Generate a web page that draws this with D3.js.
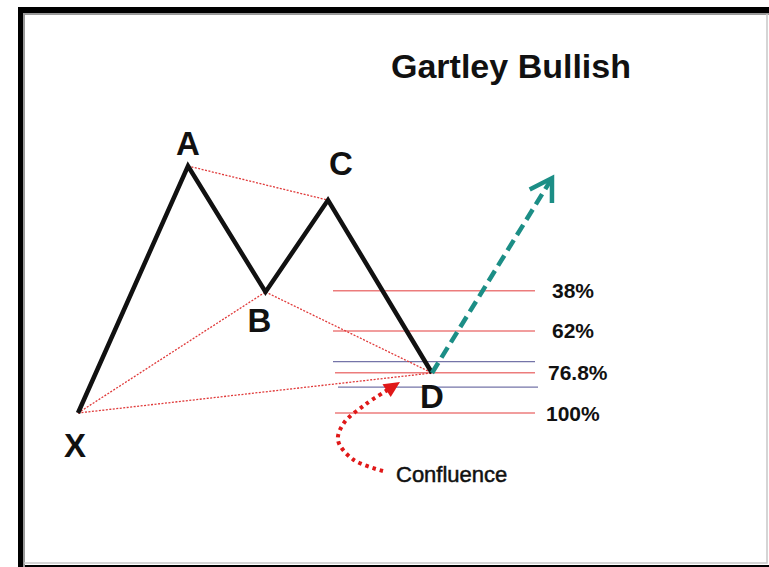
<!DOCTYPE html>
<html>
<head>
<meta charset="utf-8">
<script src="https://cdn.jsdelivr.net/npm/d3@7"></script>
<style>
  body { margin: 0; background: #fff; }
  svg { display: block; }
  text { font-family: "Liberation Sans", Arial, sans-serif; font-weight: bold; fill: #111; }
</style>
</head>
<body>
<div id="chart"></div>
<script>
// pattern swing points: bar index and price (X = 0, A = 100)
const pointNames = ["X", "A", "B", "C", "D"];
const pointBars = [0, 22, 37.5, 50, 70.8];
const pointPrices = [0, 100, 49, 86.2, 16.2];

// projected move after D
const targetBar = 94.8;
const targetPrice = 95.1;

// fib levels
const levelLabels = ["38%", "62%", "76.8%", "100%"];
const levelPrices = [49.5, 33.2, 16.3, 0];
const levelStart = [51, 51, 51.4, 51.4];
const levelEnd = [91.4, 91.4, 91.4, 91.4];

// confluence zone band (blue lines)
const bandPrices = [20.8, 10.5];
const bandStart = [51, 52];
const bandEnd = [91.4, 92];

// curved "Confluence" pointer
const pointerBars = [61, 55, 52, 53.2, 57.5, 64.4];
const pointerPrices = [-23.5, -18.8, -11, -4, 3.5, 12.6];

const width = 769, height = 567;

const x = d3.scaleLinear().domain([0, 100]).range([78, 578]);
const y = d3.scaleLinear().domain([0, 100]).range([413, 166]);

const svg = d3.select("#chart").append("svg")
    .attr("width", width)
    .attr("height", height);

// frame
svg.append("rect")
    .attr("x", 21).attr("y", 10)
    .attr("width", 760).attr("height", 558)
    .attr("fill", "none")
    .attr("stroke", "#000")
    .attr("stroke-width", 6);
svg.append("path")
    .attr("d", "M24,567 V14 H769")
    .attr("fill", "none")
    .attr("stroke", "#9a9a9a")
    .attr("stroke-width", 2);
svg.append("path")
    .attr("d", "M767,14 V563 H24")
    .attr("fill", "none")
    .attr("stroke", "#c8c8c8")
    .attr("stroke-width", 1.5);

// title
svg.append("text")
    .attr("x", 511).attr("y", 78)
    .attr("text-anchor", "middle")
    .style("font-size", "34px")
    .text("Gartley Bullish");

const pts = pointNames.map((n, i) => ({ name: n, bar: pointBars[i], price: pointPrices[i] }));
const P = {};
pts.forEach(p => P[p.name] = p);

// fib level lines
const levels = levelLabels.map((l, i) => ({ label: l, price: levelPrices[i], x0: levelStart[i], x1: levelEnd[i] }));
svg.selectAll(".level")
    .data(levels)
    .enter()
    .append("line")
    .attr("class", "level")
    .attr("x1", d => x(d.x0))
    .attr("x2", d => x(d.x1))
    .attr("y1", d => y(d.price))
    .attr("y2", d => y(d.price))
    .attr("stroke", "#ec7c7c")
    .attr("stroke-width", 1.3);

svg.selectAll(".band")
    .data(bandPrices)
    .enter()
    .append("line")
    .attr("class", "band")
    .attr("x1", (d, i) => x(bandStart[i]))
    .attr("x2", (d, i) => x(bandEnd[i]))
    .attr("y1", d => y(d))
    .attr("y2", d => y(d))
    .attr("stroke", "#7474a8")
    .attr("stroke-width", 1.3);

const labelShift = [0, 0, -4, -6];
svg.selectAll(".levelLabel")
    .data(levels)
    .enter()
    .append("text")
    .attr("class", "levelLabel")
    .attr("x", (d, i) => x(d.x1) + 17 + labelShift[i])
    .attr("y", d => y(d.price) + 7.5)
    .style("font-size", "21px")
    .text(d => d.label);

// dotted ratio lines
const ratioPairs = [["A", "C"], ["X", "B"], ["B", "D"], ["X", "D"]];
svg.selectAll(".ratio")
    .data(ratioPairs)
    .enter()
    .append("line")
    .attr("class", "ratio")
    .attr("x1", d => x(P[d[0]].bar))
    .attr("y1", d => y(P[d[0]].price))
    .attr("x2", d => x(P[d[1]].bar))
    .attr("y2", d => y(P[d[1]].price))
    .attr("stroke", "#e03a3a")
    .attr("stroke-width", 1.3)
    .attr("stroke-dasharray", "2,1.5");

// main zigzag
const line = d3.line().x(d => x(d.bar)).y(d => y(d.price));
svg.append("path")
    .datum(pts)
    .attr("d", line)
    .attr("fill", "none")
    .attr("stroke", "#111")
    .attr("stroke-width", 4.5)
    .attr("stroke-linejoin", "miter");

// projected move
const tx = x(targetBar), ty = y(targetPrice);
const dx0 = x(P.D.bar), dy0 = y(P.D.price);
svg.append("line")
    .attr("x1", dx0).attr("y1", dy0)
    .attr("x2", tx).attr("y2", ty)
    .attr("stroke", "#1c8e86")
    .attr("stroke-width", 4.5)
    .attr("stroke-dasharray", "12,6");
const ang = Math.atan2(ty - dy0, tx - dx0);
const headLen = 25, spread = 0.55;
svg.append("path")
    .attr("d", "M" + (tx - headLen * Math.cos(ang - spread)) + "," + (ty - headLen * Math.sin(ang - spread)) +
        " L" + tx + "," + ty +
        " L" + (tx - headLen * Math.cos(ang + spread)) + "," + (ty - headLen * Math.sin(ang + spread)))
    .attr("fill", "none")
    .attr("stroke", "#1c8e86")
    .attr("stroke-width", 4.5);

// confluence pointer
const pointer = pointerBars.map((b, i) => ({ bar: b, price: pointerPrices[i] }));
const n = pointer.length;
const px1 = x(pointer[n - 1].bar), py1 = y(pointer[n - 1].price);
const px0 = x(pointer[n - 2].bar), py0 = y(pointer[n - 2].price);
const pa = Math.atan2(py1 - py0, px1 - px0);
const pLen = 16, pHalf = 7.5;
// stop the dotted curve at the base of the head
const curvePts = pointer.slice(0, n - 1).concat([{
    bar: x.invert(px1 - (pLen - 2) * Math.cos(pa)),
    price: y.invert(py1 - (pLen - 2) * Math.sin(pa))
}]);
svg.append("path")
    .datum(curvePts)
    .attr("d", d3.line().x(d => x(d.bar)).y(d => y(d.price)).curve(d3.curveCatmullRom))
    .attr("fill", "none")
    .attr("stroke", "#e01818")
    .attr("stroke-width", 4)
    .attr("stroke-dasharray", "3.5,4");
const bx = px1 - pLen * Math.cos(pa), by = py1 - pLen * Math.sin(pa);
svg.append("path")
    .attr("d", "M" + px1 + "," + py1 +
        " L" + (bx + pHalf * Math.sin(pa)) + "," + (by - pHalf * Math.cos(pa)) +
        " L" + (bx - pHalf * Math.sin(pa)) + "," + (by + pHalf * Math.cos(pa)) + " Z")
    .attr("fill", "#e01818");

svg.append("text")
    .attr("x", 396).attr("y", 482)
    .style("font-size", "22px")
    .style("font-weight", "normal")
    .style("stroke", "#111")
    .style("stroke-width", 0.5)
    .text("Confluence");

// point labels
const labelOffsets = { X: [-3, 44], A: [0, -11], B: [-6, 40], C: [13, -25], D: [0, 35] };
svg.selectAll(".ptLabel")
    .data(pts)
    .enter()
    .append("text")
    .attr("class", "ptLabel")
    .attr("x", d => x(d.bar) + labelOffsets[d.name][0])
    .attr("y", d => y(d.price) + labelOffsets[d.name][1])
    .attr("text-anchor", "middle")
    .style("font-size", "33px")
    .text(d => d.name);
</script>
</body>
</html>
